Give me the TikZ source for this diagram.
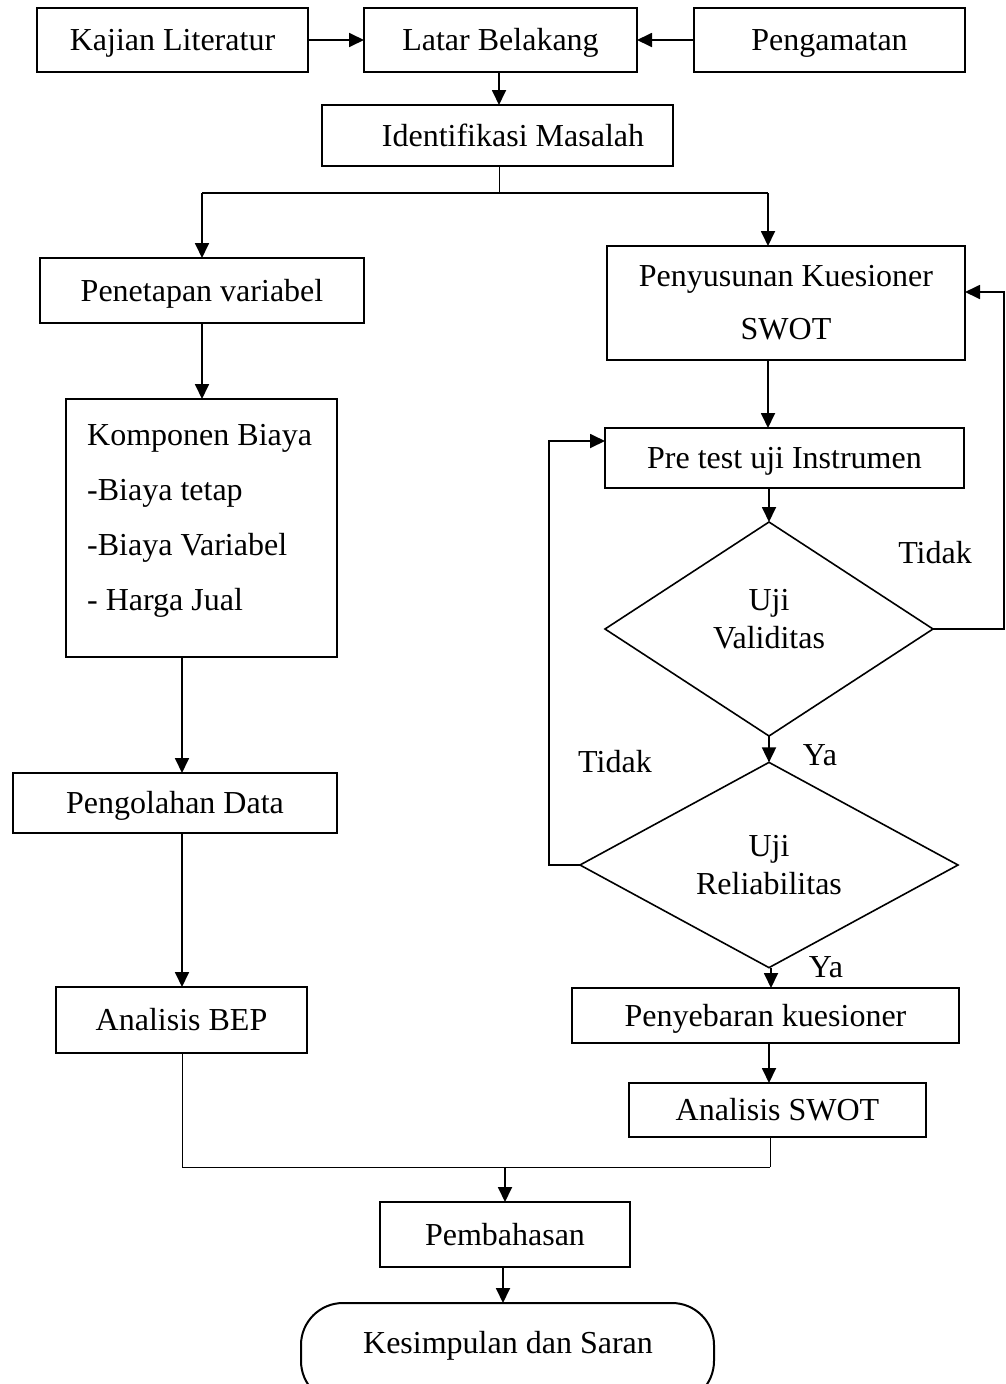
\documentclass[tikz,border=0pt]{standalone}
\usepackage{fontspec}
\setmainfont{Liberation Serif}
\usetikzlibrary{arrows.meta,shapes.geometric}
\begin{document}
\begin{tikzpicture}[x=1pt,y=-1pt,
  every node/.style={font=\fontsize{32}{38}\selectfont},
  box/.style={draw,line width=1.6pt,rectangle,inner sep=0pt,outer sep=0pt},
  one/.style={text height=21pt,text depth=0pt},
  dmd/.style={draw,line width=1.6pt,diamond,inner sep=0pt,outer sep=0pt,align=center},
  arr/.style={line width=1.8pt,-{Triangle[length=15pt,width=14pt]}},
  ln/.style={line width=1.8pt},
  thin/.style={line width=0.9pt},
  lbl/.style={inner sep=0pt}]
\useasboundingbox (0,0) rectangle (1006,1384);
% top row
\node[box,one,minimum width=271pt,minimum height=64pt] (kajian) at (172.5,40) {Kajian Literatur};
\node[box,one,minimum width=273pt,minimum height=64pt] (latar) at (500.5,40) {Latar Belakang};
\node[box,one,minimum width=271pt,minimum height=64pt] (peng) at (829.5,40) {Pengamatan};
\node[box,one,minimum width=351pt,minimum height=61pt] (ident) at (497.5,135.5) {\hspace*{31pt}Identifikasi Masalah};
% left column
\node[box,one,minimum width=324pt,minimum height=65pt] (penetapan) at (202,290.5) {Penetapan variabel};
\node[box,line width=2pt,minimum width=271pt,minimum height=258pt] (komponen) at (201.5,528) {};
\node[lbl,anchor=west,align=left,font=\fontsize{32}{55}\selectfont] (komptext) at (87,520.5) {Komponen Biaya\\-Biaya tetap\\-Biaya Variabel\\- Harga Jual};
\node[box,one,minimum width=324pt,minimum height=60pt] (pengolahan) at (175,803) {Pengolahan Data};
\node[box,one,minimum width=251pt,minimum height=66pt] (bep) at (181.5,1020) {Analisis BEP};
% right column
\node[box,minimum width=358pt,minimum height=114pt,align=center,font=\fontsize{32}{53}\selectfont] (penyusunan) at (786,303) {Penyusunan Kuesioner\\SWOT};
\node[box,one,minimum width=359pt,minimum height=60pt] (pretest) at (784.5,458) {Pre test uji Instrumen};
\node[dmd,minimum width=328pt,minimum height=214pt] (val) at (769,629) {};
\node[lbl,align=center] (valtext) at (769,619) {Uji\\Validitas};
\node[dmd,minimum width=378pt,minimum height=182pt] (rel) at (769,865) {Uji\\Reliabilitas};
\node[box,one,minimum width=387pt,minimum height=55pt] (penyebaran) at (765.5,1015.5) {Penyebaran kuesioner};
\node[box,one,minimum width=297pt,minimum height=54pt] (swot) at (777.5,1110) {Analisis SWOT};
% bottom
\node[box,one,minimum width=250pt,minimum height=65pt] (pembahasan) at (505,1234.5) {Pembahasan};
\node[box,line width=2pt,rounded corners=42pt,minimum width=413pt,minimum height=100pt] (kesimpulan) at (507.5,1353) {};
\node[lbl,one] (kestext) at (508,1343) {Kesimpulan dan Saran};
% labels
\node[lbl] (t1) at (935,553) {Tidak};
\node[lbl] (t2) at (615,762) {Tidak};
\node[lbl] (y1) at (820,755) {Ya};
\node[lbl] (y2) at (826,967) {Ya};
% coordinates
\coordinate (split) at (499,193);
\coordinate (jl) at (202,193);
\coordinate (jr) at (768,193);
\coordinate (ml) at (182,1167);
\coordinate (mr) at (770,1167);
\coordinate (mm) at (505,1167);
\coordinate (re) at (1004,292);
\coordinate (le) at (549,441);
% connectors
\draw[arr] (kajian) -- (latar);
\draw[arr] (peng) -- (latar);
\draw[arr] ([xshift=-1.5pt]latar.south) -- ([xshift=-1.5pt]latar.south |- ident.north);
\draw[thin] (split |- ident.south) -- (split);
\draw[ln] (jl) -- (jr);
\draw[arr] (jl) -- (jl |- penetapan.north);
\draw[arr] (jr) -- (jr |- penyusunan.north);
\draw[arr] (penetapan.south) -- (penetapan.south |- komponen.north);
\draw[arr] (komponen.south -| ml) -- (pengolahan.north -| ml);
\draw[arr] (pengolahan.south -| ml) -- (bep.north -| ml);
\draw[thin] (bep.south -| ml) -- (ml) -- (mr);
\draw[thin] (mr |- swot.south) -- (mr);
\draw[arr] (mm) -- (pembahasan.north);
\draw[arr] ([xshift=-2pt]pembahasan.south) -- ([xshift=-2pt]pembahasan.south |- kesimpulan.north);
\draw[arr] (jr |- penyusunan.south) -- (jr |- pretest.north);
\draw[arr] (val |- pretest.south) -- (val.north);
\draw[arr] (val.south) -- (rel.north);
\draw[arr] ([xshift=2pt]rel.south) -- ([xshift=2pt]rel.south |- penyebaran.north);
\draw[arr] (val |- penyebaran.south) -- (val |- swot.north);
\draw[arr] (val.east) -| (re) -- (re -| penyusunan.east);
\draw[arr] (rel.west) -| (le) -- (le -| pretest.west);
\end{tikzpicture}
\end{document}
